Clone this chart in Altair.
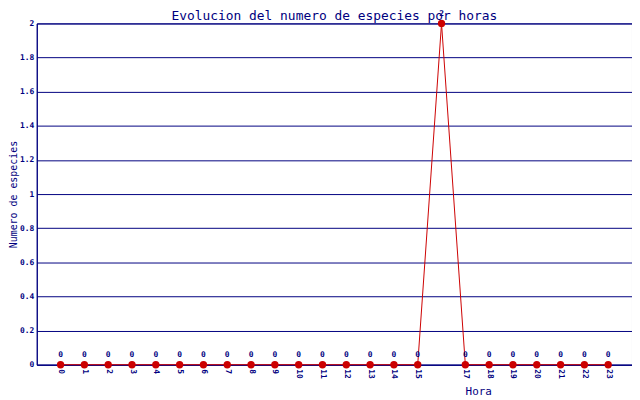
import pandas as pd
import altair as alt

horas = list(range(24))
especies = [0] * 16 + [2] + [0] * 7

data = pd.DataFrame({'hora': horas, 'especies': especies})

navy = '#000080'
red = '#cc0000'
mono = 'DejaVu Sans Mono'

x = alt.X('hora:O', title='Hora',
          scale=alt.Scale(padding=1),
          axis=alt.Axis(labelAngle=90, labelFont=mono, labelFontSize=8,
                        labelFontWeight='bold', labelColor=navy,
                        labelExpr="datum.value == 16 ? '' : datum.label",
                        ticks=False, domainColor=navy, labelPadding=4,
                        titleFont=mono, titleFontSize=11, titleFontWeight='normal',
                        titleColor=navy, titleX=445, titleY=21,
                        titleBaseline='top', titleAlign='center'))
y = alt.Y('especies:Q', title='Numero de especies',
          scale=alt.Scale(domain=[0, 2], nice=False),
          axis=alt.Axis(values=[0, 0.2, 0.4, 0.6, 0.8, 1, 1.2, 1.4, 1.6, 1.8, 2],
                        labelExpr="datum.value",
                        labelFont=mono, labelFontSize=8, labelFontWeight='bold',
                        labelColor=navy, ticks=False, labelPadding=3,
                        domainColor=navy, gridColor=navy, gridOpacity=1,
                        titleFont=mono, titleFontSize=10, titleFontWeight='normal',
                        titleColor=navy, titleX=-23, titleY=172,
                        titleAlign='center', titleBaseline='middle'))

base = alt.Chart(data).encode(x=x, y=y)

line = base.mark_line(color=red, strokeWidth=1)
points = base.mark_circle(color=red, size=55, opacity=1)
labels = base.mark_text(dy=-10, font=mono, fontSize=8, fontWeight='bold',
                        color=navy).encode(text='especies:Q')

chart = (line + points + labels).properties(
    width=600, height=344,
    title=alt.TitleParams('Evolucion del numero de especies por horas',
                          font=mono, fontSize=13, fontWeight='normal',
                          color=navy, offset=0, dy=14),
    padding={'left': 29, 'top': 14, 'right': 0, 'bottom': 32},
    autosize=alt.AutoSizeParams(type='none'),
).configure_view(stroke=navy, strokeWidth=1)

chart.save("out.html", embed_options={"renderer": "svg", "actions": False})
